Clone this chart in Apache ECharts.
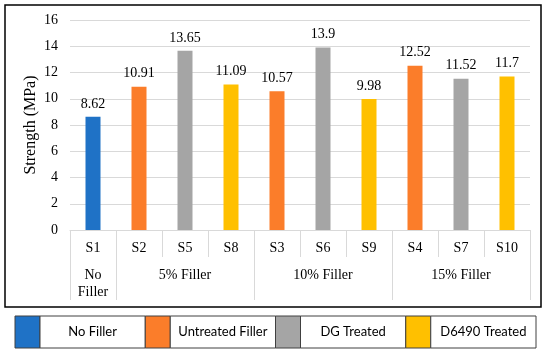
<!DOCTYPE html>
<html><head><meta charset="utf-8">
<script src="https://cdn.jsdelivr.net/npm/echarts@6/dist/echarts.min.js"></script>
<style>html,body{margin:0;padding:0;background:#fff}#c{width:550px;height:353px}</style>
</head><body><div id="c"></div>
<script>
var categories = ["S1","S2","S5","S8","S3","S6","S9","S4","S7","S10"];
var groupLabels = ["No\nFiller","","5% Filler","","","10% Filler","","","15% Filler",""];
var groupBoundaries = [0,1,4,7];
var values = [8.62,10.91,13.65,11.09,10.57,13.9,9.98,12.52,11.52,11.7];
var seriesNames = ["No Filler","Untreated Filler","DG Treated","D6490 Treated"];
var seriesOfCategory = [0,1,2,3,1,2,3,1,2,3];
var colors = ["#1F72C6","#FB7D2A","#A5A5A5","#FFC000"];
var yTicks = {min:0, max:16, interval:2};

var serif = "'Liberation Serif','Times New Roman',serif";
var series = seriesNames.map(function(name, s){
  return {
    name: name, type: 'bar', stack: 'all', barWidth: 15,
    itemStyle: {color: colors[s]},
    label: {show: true, position: 'top', distance: 6, fontFamily: serif, fontSize: 14, color: '#000',
      formatter: function(p){ return p.value; }},
    data: values.map(function(v,i){ return seriesOfCategory[i]===s ? v : null; })
  };
});

// legend table built from names/colors
var legendGraphics = [];
var lx0 = 15, ly = 316, lh = 32, cellW = 130.25, swW = 25;
seriesNames.forEach(function(name, s){
  var x = lx0 + s*cellW;
  legendGraphics.push({type:'rect', shape:{x:x, y:ly, width:swW, height:lh},
    style:{fill:colors[s], stroke:'#404040', lineWidth:1}});
  legendGraphics.push({type:'rect', shape:{x:x+swW, y:ly, width:cellW-swW, height:lh},
    style:{fill:'#fff', stroke:'#404040', lineWidth:1}});
  legendGraphics.push({type:'text', x:x+swW+(cellW-swW)/2, y:ly+lh/2,
    style:{text:name, fill:'#000', font:"13px 'Lato','Open Sans',sans-serif", align:'center', verticalAlign:'middle'}});
});
legendGraphics.push({type:'rect', shape:{x:5, y:5, width:536, height:302},
  style:{fill:null, stroke:'#000', lineWidth:1.5}, z:-1});

var chart = echarts.init(document.getElementById('c'), null, {renderer:'canvas'});
chart.setOption({
  animation: false,
  grid: {left:70, right:20, top:20, bottom:123},
  xAxis: [{
    type:'category', data: categories, position:'bottom',
    axisLine:{show:true, lineStyle:{color:'#D9D9D9'}},
    axisTick:{show:true, length:27, lineStyle:{color:'#D9D9D9'}},
    axisLabel:{fontFamily:serif, fontSize:14, color:'#000', margin:11, interval:0}
  },{
    type:'category', data: categories, position:'bottom', offset:27,
    axisLine:{show:false},
    axisTick:{show:true, length:43, lineStyle:{color:'#D9D9D9'},
      interval:function(i){ return groupBoundaries.indexOf(i) >= 0; }},
    axisLabel:{fontFamily:serif, fontSize:14, color:'#000', margin:10, interval:0, lineHeight:17,
      formatter:function(v, i){ return groupLabels[i]; }}
  }],
  yAxis: {
    type:'value', min:yTicks.min, max:yTicks.max, interval:yTicks.interval,
    name:'Strength (MPa)', nameLocation:'middle', nameGap:31, nameRotate:90, nameMoveOverlap:false,
    nameTextStyle:{fontFamily:serif, fontSize:16, color:'#000'},
    axisLine:{show:false}, axisTick:{show:false},
    axisLabel:{fontFamily:serif, fontSize:14, color:'#000', margin:12},
    splitLine:{lineStyle:{color:'#D9D9D9'}}
  },
  series: series,
  graphic: legendGraphics
});
</script></body></html>
